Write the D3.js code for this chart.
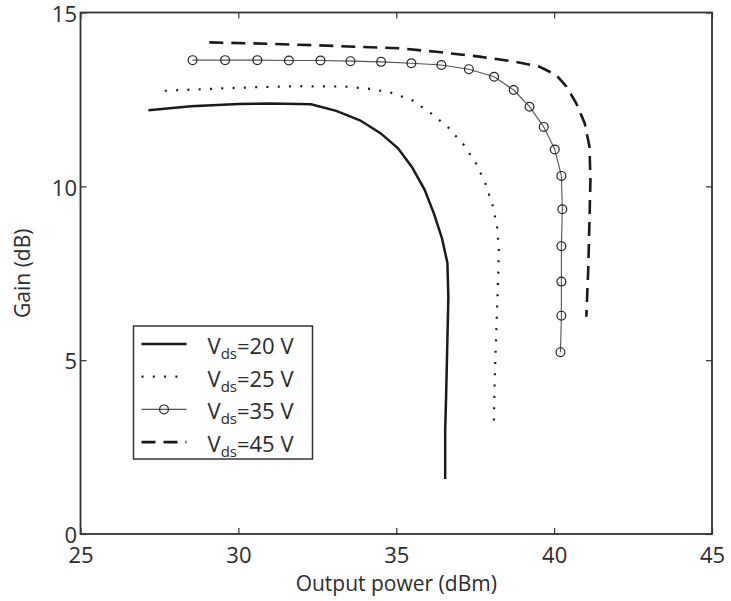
<!DOCTYPE html>
<html lang="en">
<head>
    <meta charset="UTF-8">
    <title>Gain vs output power</title>
    <script src="https://d3js.org/d3.v7.min.js"></script>
    <style>
        body { margin: 0; background: #fff; }
        text { font-family: "Open Sans", sans-serif; fill: #2b2b2b; }
    </style>
</head>
<body>

<script>
    // Data
    var xTicks = [25, 30, 35, 40, 45];
    var yTicks = [0, 5, 10, 15];
    var vdsLabels = ["20", "25", "35", "45"];

    // Vds = 20 V
    var pout20 = [27.15, 28.5, 30.0, 31.0, 32.3, 33.1, 33.85, 34.5, 35.05, 35.5, 35.9, 36.2, 36.45, 36.62, 36.65, 36.62, 36.58, 36.55, 36.55];
    var gain20 = [12.19, 12.3, 12.37, 12.38, 12.36, 12.17, 11.9, 11.53, 11.1, 10.55, 9.9, 9.2, 8.5, 7.8, 6.8, 5.6, 4.0, 3.0, 1.58];

    // Vds = 25 V
    var pout25 = [27.67, 29.0, 30.5, 32.0, 33.4, 34.2, 34.85, 35.5, 36.1, 36.64, 37.14, 37.54, 37.83, 38.06, 38.2, 38.25, 38.22, 38.17, 38.12, 38.09];
    var gain25 = [12.75, 12.8, 12.85, 12.88, 12.87, 12.8, 12.69, 12.48, 12.1, 11.7, 11.19, 10.64, 10.06, 9.43, 8.79, 8.15, 7.16, 5.87, 4.5, 3.25];

    // Vds = 35 V (with markers)
    var pout35 = [28.55, 29.58, 30.6, 31.6, 32.6, 33.55, 34.52, 35.48, 36.43, 37.3, 38.1, 38.72, 39.22, 39.67, 40.02, 40.23, 40.26, 40.23, 40.23, 40.23, 40.2];
    var gain35 = [13.63, 13.63, 13.63, 13.62, 13.62, 13.6, 13.58, 13.54, 13.49, 13.37, 13.15, 12.77, 12.29, 11.71, 11.06, 10.3, 9.34, 8.28, 7.26, 6.28, 5.23];

    // Vds = 45 V
    var pout45 = [29.08, 31.0, 33.0, 35.11, 36.27, 37.64, 38.8, 39.54, 40.07, 40.39, 40.7, 40.97, 41.12, 41.15, 41.12, 41.08, 41.02];
    var gain45 = [14.14, 14.1, 14.04, 13.97, 13.87, 13.73, 13.58, 13.44, 13.2, 12.87, 12.39, 11.81, 11.14, 10.18, 9.03, 7.59, 6.25];

    var width = 731;
    var height = 601;
    var mLeft = 80.5, mRight = 712, mTop = 12.5, mBottom = 534;

    var svg = d3.select("body").append("svg")
        .attr("width", width)
        .attr("height", height);

    var x = d3.scaleLinear().domain([25, 45]).range([mLeft, mRight]);
    var y = d3.scaleLinear().domain([0, 15]).range([mBottom, mTop]);

    function pts(px, gy) {
        return px.map(function (d, i) { return [d, gy[i]]; });
    }

    var line = d3.line()
        .x(function (d) { return x(d[0]); })
        .y(function (d) { return y(d[1]); });

    var series = [
        { data: pts(pout20, gain20), stroke: "#1a1a1a", width: 2.5, dash: null },
        { data: pts(pout25, gain25), stroke: "#1a1a1a", width: 2.2, dash: "2,9.3" },
        { data: pts(pout35, gain35), stroke: "#555", width: 1.1, dash: null },
        { data: pts(pout45, gain45), stroke: "#1a1a1a", width: 2.6, dash: "14,8" }
    ];

    // curves
    svg.append("g").selectAll("path")
        .data(series)
        .enter().append("path")
        .attr("d", function (d) { return line(d.data); })
        .attr("fill", "none")
        .attr("stroke", function (d) { return d.stroke; })
        .attr("stroke-width", function (d) { return d.width; })
        .attr("stroke-dasharray", function (d) { return d.dash; });

    // markers of Vds = 35 V
    svg.append("g").selectAll("circle")
        .data(series[2].data)
        .enter().append("circle")
        .attr("cx", function (d) { return x(d[0]); })
        .attr("cy", function (d) { return y(d[1]); })
        .attr("r", 4.4)
        .attr("fill", "none")
        .attr("stroke", "#222")
        .attr("stroke-width", 1.2);

    // axes, ticks inside
    var gx = svg.append("g")
        .attr("transform", "translate(0," + mBottom + ")")
        .call(d3.axisBottom(x).tickValues(xTicks).tickSizeInner(-6).tickSizeOuter(0).tickPadding(13));
    var gy = svg.append("g")
        .attr("transform", "translate(" + mLeft + ",0)")
        .call(d3.axisLeft(y).tickValues(yTicks).tickSizeInner(-6).tickSizeOuter(0).tickPadding(3.5));
    var gt = svg.append("g")
        .attr("transform", "translate(0," + mTop + ")")
        .call(d3.axisTop(x).tickValues(xTicks).tickSizeInner(-6).tickSizeOuter(0).tickFormat(""));
    var gr = svg.append("g")
        .attr("transform", "translate(" + mRight + ",0)")
        .call(d3.axisRight(y).tickValues(yTicks).tickSizeInner(-6).tickSizeOuter(0).tickFormat(""));

    [gx, gy, gt, gr].forEach(function (g) {
        g.select(".domain").remove();
        g.selectAll("line").attr("stroke", "#333").attr("stroke-width", 1.2);
        g.selectAll("text").attr("font-family", "Open Sans").attr("font-size", 22).attr("fill", "#2b2b2b");
    });
    gy.selectAll("text").attr("dy", "0.4em");

    svg.append("rect")
        .attr("x", mLeft).attr("y", mTop)
        .attr("width", mRight - mLeft).attr("height", mBottom - mTop)
        .attr("fill", "none").attr("stroke", "#333").attr("stroke-width", 1.8);

    // axis titles
    svg.append("text")
        .attr("x", (mLeft + mRight) / 2).attr("y", 591)
        .attr("text-anchor", "middle")
        .attr("font-size", 21)
        .text("Output power (dBm)");
    svg.append("text")
        .attr("transform", "translate(30," + (mTop + mBottom) / 2 + ") rotate(-90)")
        .attr("text-anchor", "middle")
        .attr("font-size", 21)
        .text("Gain (dB)");

    // legend
    var lg = svg.append("g").attr("transform", "translate(133.5,326)");
    lg.append("rect")
        .attr("width", 179).attr("height", 133)
        .attr("fill", "#fff").attr("stroke", "#333").attr("stroke-width", 1.5);

    var rows = lg.selectAll("g.row")
        .data(series)
        .enter().append("g")
        .attr("class", "row")
        .attr("transform", function (d, i) { return "translate(0," + (18 + i * 32.7) + ")"; });

    rows.append("line")
        .attr("x1", 8).attr("x2", 53)
        .attr("stroke", function (d) { return d.stroke; })
        .attr("stroke-width", function (d) { return d.width; })
        .attr("stroke-dasharray", function (d) { return d.dash; });

    rows.filter(function (d, i) { return i === 2; })
        .append("circle")
        .attr("cx", 30.5).attr("r", 4.4)
        .attr("fill", "none").attr("stroke", "#222").attr("stroke-width", 1.2);

    var t = rows.append("text")
        .attr("x", 74).attr("y", 10)
        .attr("font-size", 22);
    t.append("tspan").text("V");
    t.append("tspan").attr("font-size", 15).attr("dy", 5).text("ds");
    t.append("tspan").attr("dy", -5).text(function (d, i) { return "=" + vdsLabels[i] + " V"; });
</script>

</body>
</html>
